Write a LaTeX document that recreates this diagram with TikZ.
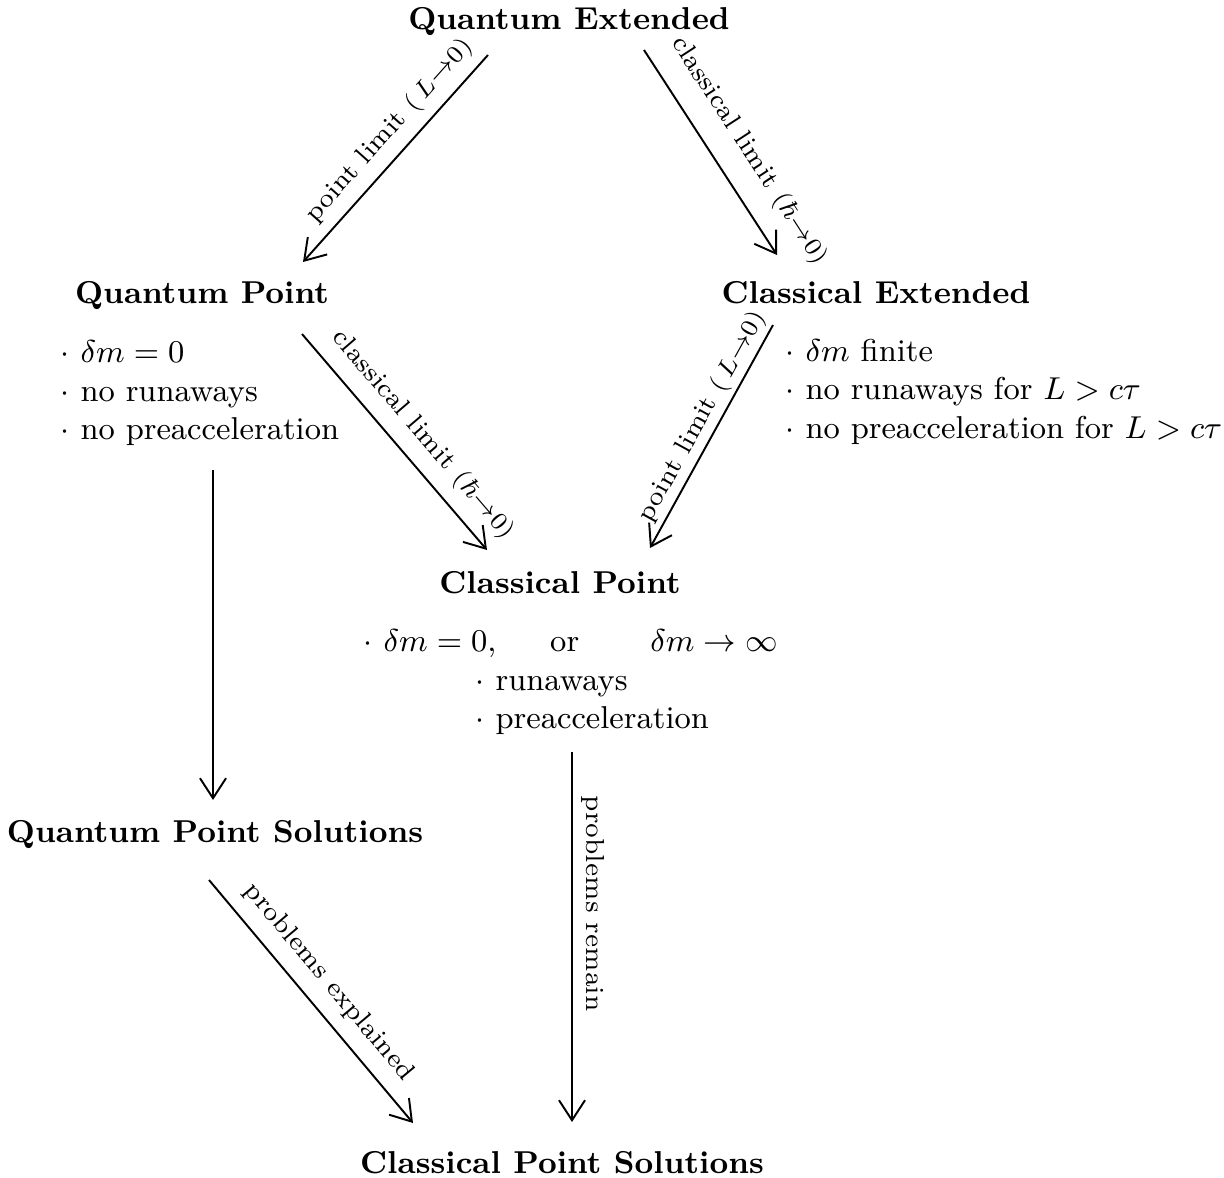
\documentclass[tikz,border=0pt]{standalone}
\usepackage{amsmath,amssymb}
\usepackage{tikz}
\usetikzlibrary{arrows.meta,positioning,calc}

\begin{document}
\begin{tikzpicture}[
    regime/.style={inner sep=0pt, font=\fontsize{9}{11}\selectfont\bfseries},
    props/.style={inner sep=0pt, align=left, font=\fontsize{9}{11}\selectfont},
    arrow/.style={-{Straight Barb[length=2mm,width=2.6mm]}, line width=0.55pt},
    tag/.style={inner sep=2.5pt, font=\fontsize{7.4}{9}\selectfont},
    limit/.style={tag, sloped, above}
]
    \useasboundingbox (0,0) rectangle (12.24,11.77);

    % Regimes
    \node[regime] (qe) at (5.69,11.55) {Quantum Extended};
    \node[regime] (qp) at (2.02,8.81) {Quantum Point};
    \node[regime] (ce) at (8.76,8.84) {Classical Extended};
    \node[regime] (cp) at (5.60,5.94) {Classical Point};
    \node[regime] (qps) at (2.15,3.42) {Quantum Point Solutions};
    \node[regime] (cps) at (5.62,0.14) {Classical Point Solutions};

    % Properties
    \node[props, anchor=north west] (qpprops) at (0.60,8.37)
        {$\cdot$ $\delta m=0$\\ $\cdot$ no runaways\\ $\cdot$ no preacceleration};
    \node[props, anchor=north west] (ceprops) at (7.85,8.39)
        {$\cdot$ $\delta m$ finite\\ $\cdot$ no runaways for $L>c\tau$\\ $\cdot$ no preacceleration for $L>c\tau$};
    \node[props, anchor=north west] (cpprops) at (3.63,5.48)
        {$\cdot$ $\delta m=0,$\hspace{1.7em}or\hspace{2.25em}$\delta m\to\infty$\\
         \hspace*{1.12cm}$\cdot$ runaways\\ \hspace*{1.12cm}$\cdot$ preacceleration};

    % Limits
    \draw[arrow] ([shift={(-0.81,-0.33)}]qe.center) -- ([shift={(1.01,0.34)}]qp.center)
        node[limit, pos=0.44, inner sep=2.8pt] {point limit $(\,L{\to}0)$};
    \draw[arrow] ([shift={(0.75,-0.28)}]qe.center) -- ([shift={(-0.99,0.38)}]ce.center)
        node[limit, pos=0.58, inner sep=5.6pt] {classical limit $(\hbar{\to}0)$};
    \draw[arrow] ([shift={(1.00,-0.38)}]qp.center) -- ([shift={(-0.73,0.33)}]cp.center)
        node[limit, pos=0.545, inner sep=3.6pt] {classical limit $(\hbar{\to}0)$};
    \draw[arrow] ([shift={(-1.03,-0.32)}]ce.center) -- ([shift={(0.90,0.35)}]cp.center)
        node[limit, pos=0.45, inner sep=1.2pt] {point limit $(\,L{\to}0)$};

    % Solutions
    \draw[arrow] ([shift={(0.11,-1.74)}]qp.center) -- ([shift={(-0.02,0.35)}]qps.center);
    \draw[arrow] ([shift={(0.12,-1.69)}]cp.center) -- ([shift={(0.10,0.41)}]cps.center)
        node[tag, pos=0.41, rotate=-90, anchor=south] {problems remain};
    \draw[arrow] ([shift={(-0.06,-0.45)}]qps.center) -- ([shift={(-1.49,0.40)}]cps.center)
        node[limit, pos=0.49, inner sep=3.9pt] {problems explained};
\end{tikzpicture}
\end{document}
